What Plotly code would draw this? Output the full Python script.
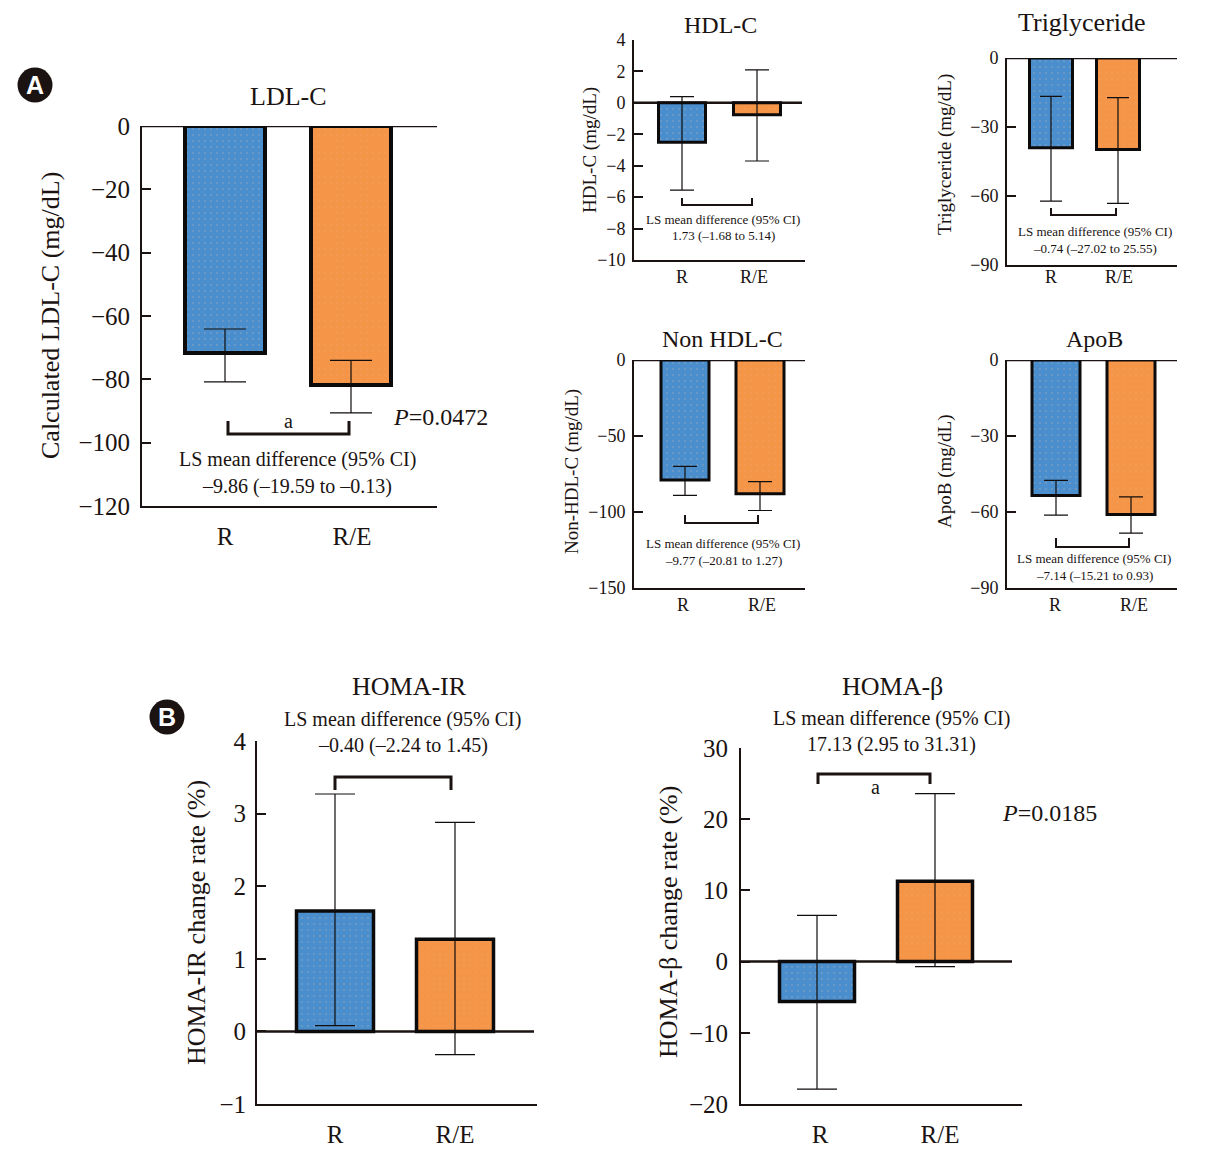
import plotly.graph_objects as go

W, H = 1207, 1170
FONT = "Liberation Serif"
BLUE, ORANGE, INK = "#4a8ecd", "#f59548", "#1a1311"

groups = ["R", "R/E"]

ldl_mean = [-71.7, -81.8]
ldl_high = [-64.1, -74.0]
ldl_low = [-80.8, -90.6]
ldl_ticks = [0, -20, -40, -60, -80, -100, -120]

hdl_mean = [-2.5, -0.75]
hdl_high = [0.4, 2.1]
hdl_low = [-5.55, -3.7]
hdl_ticks = [4, 2, 0, -2, -4, -6, -8, -10]

tg_mean = [-39.0, -39.8]
tg_high = [-16.7, -17.2]
tg_low = [-62.2, -63.2]
tg_ticks = [0, -30, -60, -90]

nonhdl_mean = [-79, -88]
nonhdl_high = [-70, -80]
nonhdl_low = [-89, -99]
nonhdl_ticks = [0, -50, -100, -150]

apob_mean = [-53.5, -61]
apob_high = [-47.5, -54]
apob_low = [-61.2, -68.3]
apob_ticks = [0, -30, -60, -90]

ir_mean = [1.66, 1.27]
ir_high = [3.27, 2.88]
ir_low = [0.08, -0.32]
ir_ticks = [4, 3, 2, 1, 0, -1]

beta_mean = [-5.6, 11.3]
beta_high = [6.5, 23.6]
beta_low = [-17.9, -0.7]
beta_ticks = [30, 20, 10, 0, -10, -20]

panels = [
    dict(mean=ldl_mean, high=ldl_high, low=ldl_low, ticks=ldl_ticks, L=142, R=437, T=126, B=506, Z0=142, Z1=437,
         c=(225, 351), lab=(225, 352), bw=80, lw=4, cap=21, tick=25, ticklen=9, tstand=5, xfont=25, xstand=7),
    dict(mean=hdl_mean, high=hdl_high, low=hdl_low, ticks=hdl_ticks, L=634, R=805, T=40, B=260, Z0=634, Z1=802,
         c=(682, 757), lab=(682, 754), bw=47, lw=3, cap=12, tick=18, ticklen=9, tstand=3, xfont=18, xstand=-1),
    dict(mean=tg_mean, high=tg_high, low=tg_low, ticks=tg_ticks, L=1007, R=1177, T=58, B=265, Z0=1007, Z1=1177,
         c=(1051, 1118), lab=(1051, 1119), bw=43, lw=3, cap=11, tick=18, ticklen=9, tstand=3, xfont=18, xstand=-6),
    dict(mean=nonhdl_mean, high=nonhdl_high, low=nonhdl_low, ticks=nonhdl_ticks, L=634, R=805, T=360, B=588, Z0=634, Z1=805,
         c=(685, 760), lab=(683, 762), bw=48, lw=3, cap=12, tick=18, ticklen=9, tstand=3, xfont=18, xstand=-1),
    dict(mean=apob_mean, high=apob_high, low=apob_low, ticks=apob_ticks, L=1007, R=1177, T=360, B=588, Z0=1007, Z1=1177,
         c=(1056, 1131), lab=(1055, 1134), bw=48, lw=3, cap=12, tick=18, ticklen=9, tstand=3, xfont=18, xstand=-1),
    dict(mean=ir_mean, high=ir_high, low=ir_low, ticks=ir_ticks, L=257, R=537, T=741, B=1104, Z0=257, Z1=534,
         c=(335, 455), lab=(335, 455), bw=77, lw=3.5, cap=20, tick=25, ticklen=9, tstand=4, xfont=25, xstand=7),
    dict(mean=beta_mean, high=beta_high, low=beta_low, ticks=beta_ticks, L=741, R=1022, T=748, B=1104, Z0=741, Z1=1012,
         c=(817, 935), lab=(820, 940), bw=75, lw=3.5, cap=20, tick=25, ticklen=9, tstand=6, xfont=25, xstand=7),
]

fig = go.Figure()
layout = {}
shapes = []
for i, p in enumerate(panels):
    n = "" if i == 0 else str(i + 1)
    u = p["c"][1] - p["c"][0]
    xa, ya = f"xaxis{n}", f"yaxis{n}"
    layout[xa] = dict(
        domain=[p["L"] / W, p["R"] / W], automargin=False,
        range=[(p["L"] - p["c"][0]) / u, (p["R"] - p["c"][0]) / u],
        tickvals=[(p["lab"][0] - p["c"][0]) / u, (p["lab"][1] - p["c"][0]) / u],
        ticktext=groups, ticks="", showgrid=False, zeroline=False,
        showline=True, linecolor=INK, linewidth=2, anchor=f"y{n}",
        tickfont=dict(family=FONT, size=p["xfont"], color=INK), ticklabelstandoff=p["xstand"],
    )
    layout[ya] = dict(
        domain=[1 - p["B"] / H, 1 - p["T"] / H], automargin=False,
        range=[min(p["ticks"]), max(p["ticks"])],
        tickvals=p["ticks"], ticks="inside", ticklen=p["ticklen"], tickwidth=2, tickcolor=INK,
        showgrid=False, zeroline=False,
        showline=True, linecolor=INK, linewidth=2, anchor=f"x{n}",
        tickfont=dict(family=FONT, size=p["tick"], color=INK), ticklabelstandoff=p["tstand"],
    )
    shapes.append(dict(type="line", xref="paper", yref=f"y{n}", layer="below",
                       x0=p["Z0"] / W, x1=p["Z1"] / W, y0=0, y1=0,
                       line=dict(color=INK, width=2.5)))
    for j, color in enumerate((BLUE, ORANGE)):
        fig.add_trace(go.Bar(
            x=[j], y=[p["mean"][j]], width=p["bw"] / u, xaxis=f"x{n}", yaxis=f"y{n}", showlegend=False,
            cliponaxis=False,
            marker=dict(color=color, line=dict(color="#0c0a0a", width=p["lw"]),
                        pattern=dict(shape=".", size=6, solidity=0.05, bgcolor=color,
                                     fgcolor="#dcbba8" if j == 0 else "#f7ac74")),
            error_y=dict(type="data", symmetric=False,
                         array=[p["high"][j] - p["mean"][j]],
                         arrayminus=[p["mean"][j] - p["low"][j]],
                         color="#120e0d", thickness=1.2, width=p["cap"]),
        ))


def note(x, y, text, size, angle=0, color=INK, family=FONT):
    return dict(x=x / W, y=1 - y / H, xref="paper", yref="paper", text=text, showarrow=False,
                xanchor="center", yanchor="middle", textangle=angle,
                font=dict(family=family, size=size, color=color))


LS = "LS mean difference (95% CI)"
annotations = [
    note(288, 96, "LDL-C", 26),
    note(288, 421, "a", 20),
    note(440, 417, "<i>P</i>=0.0472", 24),
    note(297, 460, LS, 20),
    note(297, 486, "–9.86 (–19.59 to –0.13)", 20),
    note(51, 316, "Calculated LDL-C (mg/dL)", 26, -90),
    note(720, 25, "HDL-C", 24),
    note(723, 219, LS, 13),
    note(723, 236, "1.73 (–1.68 to 5.14)", 13),
    note(590, 150, "HDL-C (mg/dL)", 19, -90),
    note(1082, 22, "Triglyceride", 26),
    note(1095, 232, LS, 13),
    note(1095, 248, "–0.74 (–27.02 to 25.55)", 13),
    note(945, 155, "Triglyceride (mg/dL)", 19, -90),
    note(722, 339, "Non HDL-C", 24),
    note(723, 543, LS, 13),
    note(723, 560, "–9.77 (–20.81 to 1.27)", 13),
    note(572, 472, "Non-HDL-C (mg/dL)", 19, -90),
    note(1094, 339, "ApoB", 24),
    note(1094, 558, LS, 13),
    note(1094, 575, "–7.14 (–15.21 to 0.93)", 13),
    note(945, 472, "ApoB (mg/dL)", 19, -90),
    note(409, 686, "HOMA-IR", 26),
    note(403, 719, LS, 20),
    note(403, 745, "–0.40 (–2.24 to 1.45)", 20),
    note(196, 923, "HOMA-IR change rate (%)", 26, -90),
    note(892, 686, "HOMA-β", 26),
    note(891, 718, LS, 20),
    note(891, 744, "17.13 (2.95 to 31.31)", 20),
    note(668, 922, "HOMA-β change rate (%)", 26, -90),
    note(875, 787, "a", 20),
    note(1049, 813, "<i>P</i>=0.0185", 24),
    note(35, 85, "<b>A</b>", 25, color="white", family="Liberation Sans"),
    note(167, 717, "<b>B</b>", 25, color="white", family="Liberation Sans"),
]

for x0, x1, tip, bar, lw in [
    (228, 349, 421, 434, 3), (682, 752, 198, 205, 2), (1051, 1116, 208, 215, 2),
    (685, 758, 515, 523, 2), (1056, 1129, 538, 547, 2), (335, 451, 790, 777, 3), (818, 930, 784, 774, 3),
]:
    shapes.append(dict(
        type="path", xref="paper", yref="paper", line=dict(color=INK, width=lw),
        path=f"M {x0/W} {1-tip/H} L {x0/W} {1-bar/H} L {x1/W} {1-bar/H} L {x1/W} {1-tip/H}",
    ))
for cx, cy in [(35, 85), (167, 717)]:
    r = 17.5
    shapes.append(dict(type="circle", xref="paper", yref="paper", layer="below",
                       x0=(cx - r) / W, x1=(cx + r) / W, y0=1 - (cy + r) / H, y1=1 - (cy - r) / H,
                       fillcolor=INK, line=dict(width=0)))

fig.update_layout(
    width=W, height=H, autosize=False, margin=dict(l=0, r=0, t=0, b=0, autoexpand=False),
    paper_bgcolor="white", plot_bgcolor="rgba(0,0,0,0)", barmode="overlay",
    annotations=annotations, shapes=shapes, **layout,
)
fig.write_html("out.html", config={"displayModeBar": False},
               post_script="document.body.style.margin='0';document.body.style.overflow='hidden';")
